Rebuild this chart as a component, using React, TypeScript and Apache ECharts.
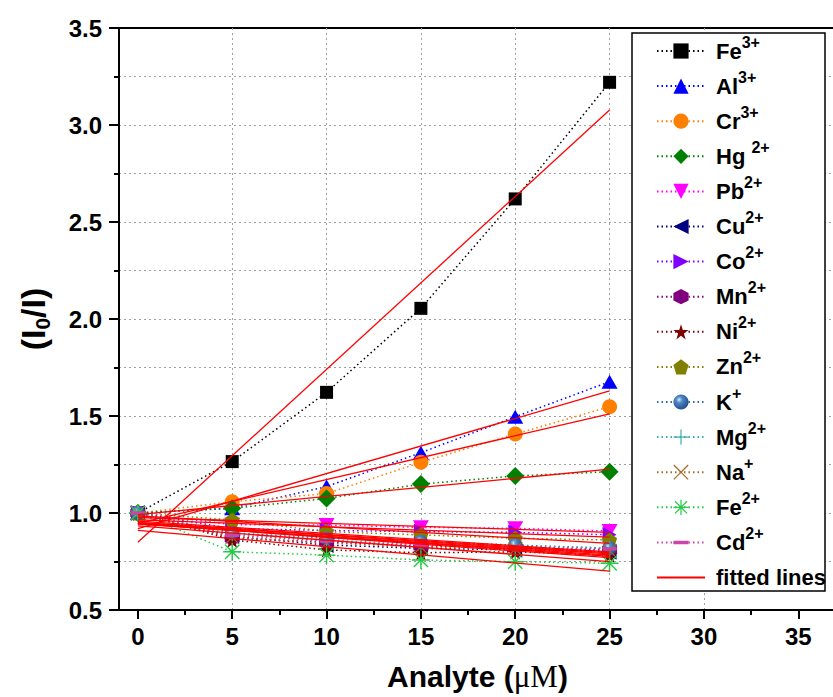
import React, { useEffect, useRef } from "react";
import * as echarts from "echarts";

// ---------- data ----------
const concentrations = [0, 5, 10, 15, 20, 25];
const fe3 = [1.0, 1.265, 1.622, 2.055, 2.619, 3.22];
const al3 = [1.0, 1.025, 1.136, 1.311, 1.496, 1.677];
const cr3 = [1.0, 1.058, 1.1, 1.261, 1.407, 1.548];
const hg2 = [1.0, 1.024, 1.075, 1.149, 1.191, 1.213];
const pb2 = [1.0, 0.94, 0.938, 0.926, 0.921, 0.907];
const cu2 = [1.0, 0.88, 0.835, 0.818, 0.81, 0.8];
const co2 = [1.0, 0.92, 0.91, 0.904, 0.9, 0.888];
const mn2 = [1.0, 0.87, 0.85, 0.83, 0.82, 0.81];
const ni2 = [1.0, 0.861, 0.81, 0.795, 0.8, 0.783];
const zn2 = [1.0, 0.964, 0.904, 0.887, 0.87, 0.861];
const kPlus = [1.0, 0.897, 0.87, 0.852, 0.835, 0.818];
const mg2 = [1.0, 0.89, 0.86, 0.84, 0.83, 0.82];
const naPlus = [1.0, 0.875, 0.845, 0.825, 0.815, 0.805];
const fe2 = [1.0, 0.8, 0.783, 0.758, 0.749, 0.741];
const cd2 = [1.0, 0.885, 0.855, 0.835, 0.825, 0.815];

const ionNames = ["Fe3+", "Al3+", "Cr3+", "Hg2+", "Pb2+", "Cu2+", "Co2+", "Mn2+", "Ni2+", "Zn2+", "K+", "Mg2+", "Na+", "Fe2+", "Cd2+"];
const ionBase = ["Fe", "Al", "Cr", "Hg ", "Pb", "Cu", "Co", "Mn", "Ni", "Zn", "K", "Mg", "Na", "Fe", "Cd"];
const ionSup = ["3+", "3+", "3+", "2+", "2+", "2+", "2+", "2+", "2+", "2+", "+", "2+", "+", "2+", "2+"];
const ionValues = [fe3, al3, cr3, hg2, pb2, cu2, co2, mn2, ni2, zn2, kPlus, mg2, naPlus, fe2, cd2];
const fitName = "fitted lines";

const xMajorTicks = [0, 5, 10, 15, 20, 25, 30, 35];
const xMinorTicks = [2.5, 7.5, 12.5, 17.5, 22.5, 27.5, 32.5];

// ---------- styles ----------
const STAR = "path://M50,0 L61.2,34.5 L97.6,34.5 L68.2,55.9 L79.4,90.5 L50,69.1 L20.6,90.5 L31.8,55.9 L2.4,34.5 L38.8,34.5 Z";
const HEX = "path://M50,0 L93.3,25 L93.3,75 L50,100 L6.7,75 L6.7,25 Z";
const PENT = "path://M50,0 L97.6,34.5 L79.4,90.5 L20.6,90.5 L2.4,34.5 Z";
const PLUS = "path://M9.2,0 H10.8 V9.2 H20 V10.8 H10.8 V20 H9.2 V10.8 H0 V9.2 H9.2 Z";
const CROSS = "path://M1.1,0 L10,8.9 L18.9,0 L20,1.1 L11.1,10 L20,18.9 L18.9,20 L10,11.1 L1.1,20 L0,18.9 L8.9,10 L0,1.1 Z";
const ASTER = "path://M9.2,0 H10.8 V9.2 H20 V10.8 H10.8 V20 H9.2 V10.8 H0 V9.2 H9.2 Z M2.6,1.5 L10,8.9 L17.4,1.5 L18.5,2.6 L11.1,10 L18.5,17.4 L17.4,18.5 L10,11.1 L2.6,18.5 L1.5,17.4 L8.9,10 L1.5,2.6 Z";
// a short horizontal dash inside a square box (tiny corner specks keep the box square)
const DASH = "path://M0,0 L0.02,0 L0,0.02 Z M12,12 L11.98,12 L12,11.98 Z M0,4.6 H12 V7.4 H0 Z";

const sphere = {
  type: "radial",
  x: 0.38,
  y: 0.35,
  r: 0.7,
  colorStops: [
    { offset: 0, color: "#d8e8f8" },
    { offset: 0.3, color: "#4f86c6" },
    { offset: 1, color: "#1d4a85" },
  ],
};

const ionStyles = [
  { color: "#000000", symbol: "rect", size: 13, rotate: 0 },
  { color: "#0000ff", symbol: "triangle", size: [16, 14], rotate: 0 },
  { color: "#ff8000", symbol: "circle", size: 15, rotate: 0 },
  { color: "#008000", symbol: "diamond", size: [18, 18], rotate: 0 },
  { color: "#ff00ff", symbol: "triangle", size: [16, 14], rotate: 180 },
  { color: "#000080", symbol: "triangle", size: [16, 14], rotate: 90 },
  { color: "#8000ff", symbol: "triangle", size: [16, 14], rotate: -90 },
  { color: "#800080", symbol: HEX, size: 15, rotate: 0 },
  { color: "#800000", symbol: STAR, size: 16, rotate: 0 },
  { color: "#808000", symbol: PENT, size: 15, rotate: 0 },
  { color: "#2f66a8", fill: sphere, symbol: "circle", size: 14, rotate: 0 },
  { color: "#3cb0b0", symbol: PLUS, size: 14, rotate: 0 },
  { color: "#a86828", symbol: CROSS, size: 14, rotate: 0 },
  { color: "#22cc44", symbol: ASTER, size: 18, rotate: 0 },
  { color: "#cc44aa", symbol: DASH, size: 14, rotate: 0 },
];

const SANS = "'Liberation Sans', Arial, Helvetica, sans-serif";

function linearFit(xs: number[], ys: number[]) {
  const n = xs.length;
  const mx = xs.reduce((a, b) => a + b, 0) / n;
  const my = ys.reduce((a, b) => a + b, 0) / n;
  let sxy = 0;
  let sxx = 0;
  for (let i = 0; i < n; i++) {
    sxy += (xs[i] - mx) * (ys[i] - my);
    sxx += (xs[i] - mx) * (xs[i] - mx);
  }
  const slope = sxy / sxx;
  const intercept = my - slope * mx;
  const x0 = xs[0];
  const x1 = xs[n - 1];
  return [
    [x0, intercept + slope * x0],
    [x1, intercept + slope * x1],
  ];
}

export default function App() {
  const ref = useRef<HTMLDivElement>(null);

  useEffect(() => {
    if (!ref.current) return;
    const chart = echarts.init(ref.current, null, { renderer: "svg" });

    const dataSeries = ionNames.map((name, i) => {
      const st: any = ionStyles[i];
      return {
        name,
        type: "line",
        xAxisIndex: 0,
        yAxisIndex: 0,
        data: concentrations.map((x, j) => [x, ionValues[i][j]]),
        symbol: st.symbol,
        symbolSize: st.size,
        symbolRotate: st.rotate,
        showSymbol: true,
        lineStyle: { color: st.color, width: 1.5, type: [1.5, 3] },
        itemStyle: { color: st.fill || st.color, borderWidth: 0 },
        emphasis: { disabled: true },
        z: 2,
      };
    });

    const fitSeries = ionValues.map((vals) => ({
      name: fitName,
      type: "line",
      xAxisIndex: 0,
      yAxisIndex: 0,
      data: linearFit(concentrations, vals),
      symbol: "circle",
      symbolSize: 0,
      showSymbol: false,
      lineStyle: { color: "#ff0000", width: 1.3, type: "solid" },
      itemStyle: { color: "#ff0000" },
      emphasis: { disabled: true },
      z: 3,
    }));

    const legendRich = {
      m: { fontFamily: SANS, fontWeight: "bold", fontSize: 22, lineHeight: 34, color: "#000", padding: [0, 0, 0, 6] },
      s: { fontFamily: SANS, fontWeight: "bold", fontSize: 16, verticalAlign: "top", color: "#000" },
    };

    const legendData: any[] = ionNames.map((n) => ({ name: n }));
    legendData.push({ name: fitName, itemStyle: { opacity: 0 }, lineStyle: { width: 2 } });

    const option: any = {
      animation: false,
      backgroundColor: "#ffffff",
      grid: {
        left: 119,
        top: 28,
        right: -3,
        bottom: 87,
        show: true,
        borderColor: "#000",
        borderWidth: 2,
        backgroundColor: "transparent",
        outerBoundsMode: "none",
        containLabel: false,
      },
      xAxis: [
        {
          type: "value",
          position: "bottom",
          min: -1,
          max: 37,
          minInterval: 2.5,
          maxInterval: 2.5,
          axisLine: { show: true, onZero: false, lineStyle: { color: "#000", width: 2 } },
          axisTick: { show: true, inside: false, length: 9, customValues: xMajorTicks, lineStyle: { color: "#000", width: 2 } },
          axisLabel: {
            show: true,
            customValues: xMajorTicks,
            margin: 14,
            color: "#000",
            fontFamily: SANS,
            fontWeight: "bold",
            fontSize: 24,
          },
          splitLine: {
            show: true,
            showMinLine: false,
            showMaxLine: false,
            lineStyle: { color: "#a0a0a0", width: 1, type: [2, 3] },
          },
          name: "{a|Analyte (}{m|μM}{a|)}",
          nameLocation: "middle",
          nameGap: 51,
          nameTextStyle: {
            rich: {
              a: { fontFamily: SANS, fontWeight: "bold", fontSize: 30, color: "#000" },
              m: { fontFamily: "'Liberation Serif', 'Times New Roman', serif", fontWeight: "normal", fontSize: 31, color: "#000" },
            },
          },
        },
        {
          type: "value",
          position: "bottom",
          min: -1,
          max: 37,
          minInterval: 2.5,
          maxInterval: 2.5,
          axisLine: { show: false, onZero: false },
          axisTick: { show: true, inside: false, length: 5, customValues: xMinorTicks, lineStyle: { color: "#000", width: 2 } },
          axisLabel: { show: false },
          splitLine: { show: false },
        },
      ],
      yAxis: [
        {
          type: "value",
          min: 0.5,
          max: 3.5,
          interval: 0.5,
          axisLine: { show: true, onZero: false, lineStyle: { color: "#000", width: 2 } },
          axisTick: { show: true, inside: false, length: 10, lineStyle: { color: "#000", width: 2 } },
          minorTick: { show: true, splitNumber: 2, length: 5, lineStyle: { color: "#000", width: 2 } },
          axisLabel: {
            margin: 17,
            color: "#000",
            fontFamily: SANS,
            fontWeight: "bold",
            fontSize: 24,
            formatter: (v: number) => v.toFixed(1),
          },
          splitLine: {
            show: true,
            showMinLine: false,
            showMaxLine: false,
            lineStyle: { color: "#a0a0a0", width: 1, type: [2, 3] },
          },
          minorSplitLine: { show: true, lineStyle: { color: "#a0a0a0", width: 1, type: [2, 3] } },
          name: "{p|(I}{s|0}{p|/I)}",
          nameLocation: "middle",
          nameGap: 66,
          nameTextStyle: {
            rich: {
              p: { fontFamily: SANS, fontWeight: "bold", fontSize: 34, lineHeight: 40, color: "#000" },
              s: { fontFamily: SANS, fontWeight: "bold", fontSize: 21, verticalAlign: "bottom", color: "#000" },
            },
          },
        },
      ],
      legend: {
        show: true,
        orient: "vertical",
        left: 656,
        top: 34,
        padding: 0,
        itemWidth: 48,
        itemHeight: 19,
        itemGap: 1.1,
        selectedMode: false,
        data: legendData,
        formatter: (name: string) => {
          const i = ionNames.indexOf(name);
          if (i < 0) return "{m|" + name + "}";
          return "{m|" + ionBase[i] + "}{s|" + ionSup[i] + "}";
        },
        textStyle: { fontFamily: SANS, fontWeight: "bold", fontSize: 22, lineHeight: 34, color: "#000", rich: legendRich },
        z: 6,
      },
      graphic: [
        {
          type: "rect",
          z: 5,
          shape: { x: 632, y: 33, width: 193, height: 558 },
          style: { fill: "#ffffff", stroke: "#000000", lineWidth: 1.5 },
          silent: true,
        },
      ],
      series: [...dataSeries, ...fitSeries],
    };

    chart.setOption(option);
    return () => chart.dispose();
  }, []);

  return (
    <div
      ref={ref}
      style={{ position: "fixed", left: 0, top: 0, width: 833, height: 697, background: "#fff" }}
    />
  );
}
